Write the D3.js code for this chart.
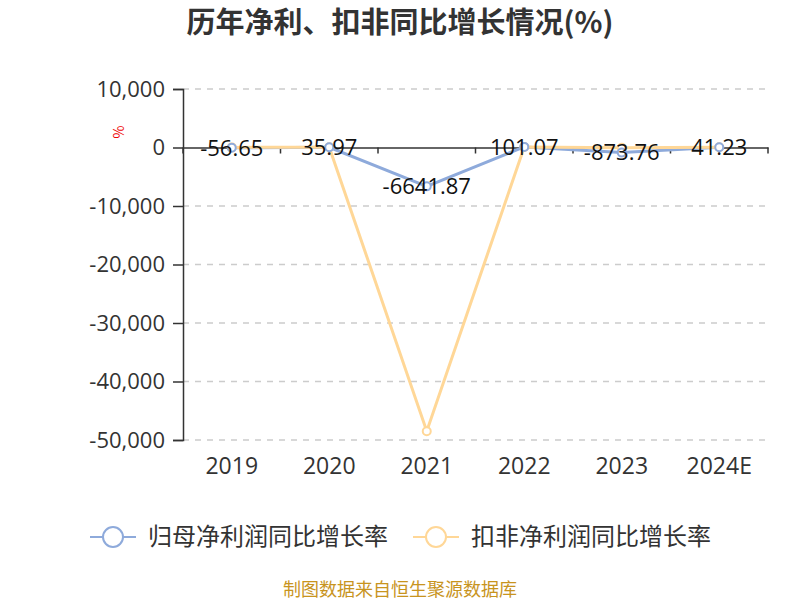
<!DOCTYPE html>
<html>
<head>
<meta charset="utf-8">
<script src="https://cdn.jsdelivr.net/npm/d3@7"></script>
<style>
  body { margin: 0; background: #fff; }
  svg { font-family: "Noto Sans CJK SC", "Noto Sans", sans-serif; }
</style>
</head>
<body>
<svg width="800" height="600"></svg>
<script>
// chart data
var years = ["2019", "2020", "2021", "2022", "2023", "2024E"];
var netProfitGrowth = [-56.65, 35.97, -6641.87, 101.07, -873.76, 41.23];
var deductedGrowth = [20, 40, -48500, 90, -30, 30];
var yTicks = [10000, 0, -10000, -20000, -30000, -40000, -50000];
var seriesNames = ["归母净利润同比增长率", "扣非净利润同比增长率"];
var colors = ["#8eaadb", "#ffd797"];

var svg = d3.select("svg");
var margin = { left: 183, right: 32, top: 89, bottom: 160 };
var width = +svg.attr("width");
var height = +svg.attr("height");
var numFont = "'Open Sans', 'Noto Sans', sans-serif";

// plain hyphen for negatives, like the original
var locale = d3.formatLocale({ decimal: ".", thousands: ",", grouping: [3], currency: ["", ""], minus: "-" });

var x = d3.scaleBand().domain(years).range([margin.left, width - margin.right]);
var y = d3.scaleLinear().domain([-50000, 10000]).range([height - margin.bottom, margin.top]);

// title
svg.append("text")
    .attr("x", 400).attr("y", 33)
    .attr("text-anchor", "middle")
    .attr("font-size", 29).attr("font-weight", "bold")
    .attr("fill", "#333")
    .text("历年净利、扣非同比增长情况(%)");

// grid lines
svg.append("g").selectAll("line")
    .data(yTicks.filter(d => d !== 0))
    .enter().append("line")
    .attr("x1", margin.left).attr("x2", width - margin.right)
    .attr("y1", d => y(d)).attr("y2", d => y(d))
    .attr("stroke", "#ccc").attr("stroke-width", 1.5)
    .attr("stroke-dasharray", "6,6");

// y axis
var yAxis = svg.append("g")
    .attr("transform", "translate(" + margin.left + ",0)")
    .call(d3.axisLeft(y).tickValues(yTicks).tickSize(10).tickPadding(8).tickFormat(locale.format(",")));
yAxis.select(".domain").attr("stroke", "#333").attr("stroke-width", 1.5);
yAxis.selectAll(".tick line").attr("stroke", "#333").attr("stroke-width", 1.5);
yAxis.selectAll(".tick text").attr("font-size", 22).attr("fill", "#333")
    .attr("font-family", numFont);

// x axis sits at zero
var xAxis = svg.append("g")
    .attr("transform", "translate(0," + y(0) + ")")
    .call(d3.axisBottom(x).tickSize(0).tickFormat(""));
xAxis.select(".domain").attr("stroke", "#333").attr("stroke-width", 1.5);
xAxis.selectAll(".bnd").data(d3.range(years.length + 1))
    .enter().append("line").attr("class", "bnd")
    .attr("x1", i => margin.left + i * x.step()).attr("x2", i => margin.left + i * x.step())
    .attr("y1", 0).attr("y2", 6)
    .attr("stroke", "#333").attr("stroke-width", 1.5);

// category labels at the bottom
svg.append("g").selectAll("text")
    .data(years).enter().append("text")
    .attr("x", d => x(d) + x.bandwidth() / 2)
    .attr("y", height - margin.bottom + 34)
    .attr("text-anchor", "middle")
    .attr("font-size", 23).attr("fill", "#333")
    .attr("font-family", numFont)
    .text(d => d);

// unit label
svg.append("text")
    .attr("transform", "translate(124,132) rotate(-90)")
    .attr("text-anchor", "middle")
    .attr("font-size", 14).attr("fill", "#e00")
    .text("%");

var line = d3.line()
    .x((d, i) => x(years[i]) + x.bandwidth() / 2)
    .y(d => y(d));

[netProfitGrowth, deductedGrowth].forEach((vals, k) => {
    svg.append("path").datum(vals)
        .attr("fill", "none")
        .attr("stroke", colors[k]).attr("stroke-width", 3)
        .attr("d", line);
});

[deductedGrowth, netProfitGrowth].forEach(vals => {
    var k = vals === netProfitGrowth ? 0 : 1;
    svg.append("g").selectAll("circle")
        .data(vals).enter().append("circle")
        .attr("cx", (d, i) => x(years[i]) + x.bandwidth() / 2)
        .attr("cy", d => y(d))
        .attr("r", 4)
        .attr("fill", "#fff")
        .attr("stroke", colors[k]).attr("stroke-width", 2);
});

// value labels for net profit growth
svg.append("g").selectAll("text")
    .data(netProfitGrowth).enter().append("text")
    .attr("x", (d, i) => x(years[i]) + x.bandwidth() / 2)
    .attr("y", d => y(d))
    .attr("dy", "0.35em")
    .attr("text-anchor", "middle")
    .attr("font-size", 22).attr("fill", "#111")
    .attr("font-family", numFont)
    .text(d => locale.format(".2f")(d));

// legend
var legend = svg.append("g").selectAll("g")
    .data(seriesNames).enter().append("g")
    .attr("transform", (d, i) => "translate(" + (90 + i * 323) + ",537)");
legend.append("line")
    .attr("x1", 0).attr("x2", 46)
    .attr("stroke", (d, i) => colors[i]).attr("stroke-width", 2);
legend.append("circle")
    .attr("cx", 23).attr("r", 10)
    .attr("fill", "#fff")
    .attr("stroke", (d, i) => colors[i]).attr("stroke-width", 2);
legend.append("text")
    .attr("x", 58).attr("dy", "0.35em")
    .attr("font-size", 24).attr("fill", "#333")
    .text(d => d);

// source note
svg.append("text")
    .attr("x", 400).attr("y", 596)
    .attr("text-anchor", "middle")
    .attr("font-size", 18).attr("fill", "#c8941e")
    .text("制图数据来自恒生聚源数据库");
</script>
</body>
</html>
